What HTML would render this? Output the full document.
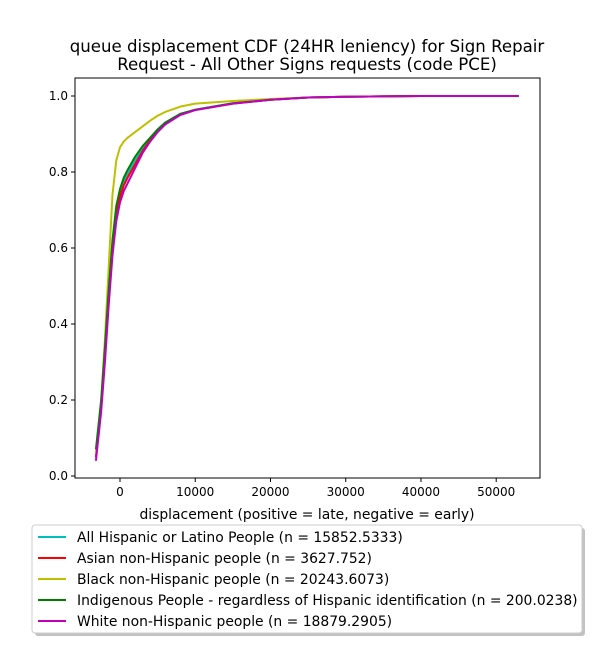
<!DOCTYPE html>
<html><head><meta charset="utf-8"><style>
body{margin:0;background:#fff;font-family:"Liberation Sans","DejaVu Sans",sans-serif;}
svg text{font-family:"DejaVu Sans","Liberation Sans",sans-serif;}
</style></head><body>
<svg id="c" width="600" height="650" xmlns="http://www.w3.org/2000/svg">
<rect width="600" height="650" fill="#fff"/>
<text x="307" y="52" text-anchor="middle" font-size="16.6">queue displacement CDF (24HR leniency) for Sign Repair</text>
<text x="307" y="70" text-anchor="middle" font-size="16.6">Request - All Other Signs  requests (code PCE)</text>
<g id="plot"></g>
<rect x="75" y="78" width="465" height="400" fill="none" stroke="#000" stroke-width="1"/>
<text x="307" y="519" text-anchor="middle" font-size="13.9">displacement (positive = late, negative = early)</text>
<rect x="35" y="528" width="550" height="108" rx="3" fill="#999" opacity="0.6"/>
<rect x="32" y="525" width="550" height="108" rx="3" fill="#fff" stroke="#ccc"/>
<g id="leg"></g>
</svg>
<script>
const xs=[-3200,-2500,-2000,-1500,-1000,-500,0,500,1000,2000,3000,4000,5000,6000,8000,10000,15000,20000,25000,30000,40000,53000];
const hispanic=[0.06,0.19,0.33,0.48,0.61,0.70,0.745,0.775,0.795,0.83,0.86,0.885,0.91,0.928,0.952,0.964,0.981,0.99,0.996,0.998,1,1];
const asian=[0.05,0.18,0.32,0.47,0.60,0.69,0.735,0.765,0.785,0.82,0.855,0.883,0.907,0.927,0.951,0.963,0.98,0.99,0.996,0.998,1,1];
const black=[0.06,0.2,0.36,0.55,0.74,0.83,0.865,0.88,0.89,0.905,0.92,0.935,0.948,0.958,0.972,0.98,0.987,0.992,0.996,0.998,1,1];
const indigenous=[0.07,0.2,0.34,0.49,0.62,0.71,0.755,0.785,0.805,0.84,0.868,0.89,0.912,0.93,0.953,0.964,0.981,0.99,0.996,0.998,1,1];
const white=[0.04,0.17,0.3,0.45,0.58,0.67,0.72,0.75,0.77,0.81,0.85,0.88,0.905,0.925,0.95,0.963,0.98,0.99,0.996,0.998,1,1];
const xTicks=[0,10000,20000,30000,40000,50000];
const yTicks=[0.0,0.2,0.4,0.6,0.8,1.0];
const series=[
 {name:"All Hispanic or Latino People (n = 15852.5333)",c:"#00bfbf",v:hispanic,id:"hispanic"},
 {name:"Asian non-Hispanic people (n = 3627.752)",c:"#ff0000",v:asian,id:"asian"},
 {name:"Black non-Hispanic people (n = 20243.6073)",c:"#bfbf00",v:black,id:"black"},
 {name:"Indigenous People - regardless of Hispanic identification (n = 200.0238)",c:"#008000",v:indigenous,id:"indigenous"},
 {name:"White non-Hispanic people (n = 18879.2905)",c:"#bf00bf",v:white,id:"white"}];
const X=v=>120+v*0.007524, Y=v=>476-v*380;
const NS="http://www.w3.org/2000/svg";
const plot=document.getElementById('plot'), leg=document.getElementById('leg');
function mk(p,t,a){const e=document.createElementNS(NS,t);for(const k in a)e.setAttribute(k,a[k]);p.appendChild(e);return e;}
xTicks.forEach(t=>{
 const l=mk(plot,'line',{x1:X(t),x2:X(t),y1:478,y2:482,stroke:'#000'});
 
 
 const tx=mk(plot,'text',{x:X(t),y:496,'text-anchor':'middle','font-size':12});tx.textContent=t;
 
 
});
yTicks.forEach(t=>{
 const l=mk(plot,'line',{x1:71,x2:75,y1:Y(t),y2:Y(t),stroke:'#000'});
 
 
 const tx=mk(plot,'text',{x:68,y:Y(t)+4,'text-anchor':'end','font-size':12});tx.textContent=t.toFixed(1);
 
 
});
series.forEach((s,i)=>{
 const p=mk(plot,'polyline',{points:xs.map((x,j)=>X(x)+','+Y(s.v[j])).join(' '),fill:'none',stroke:s.c,'stroke-width':2,'stroke-linejoin':'round'});
 
 
 const y=537+i*21;
 const g=mk(leg,'g',{});
 
 
 mk(g,'line',{x1:38,x2:66,y1:y,y2:y,stroke:s.c,'stroke-width':2});
 const t=mk(g,'text',{x:77,y:y+5,'font-size':13.9});t.textContent=s.name;
});
</script>
</body></html>
